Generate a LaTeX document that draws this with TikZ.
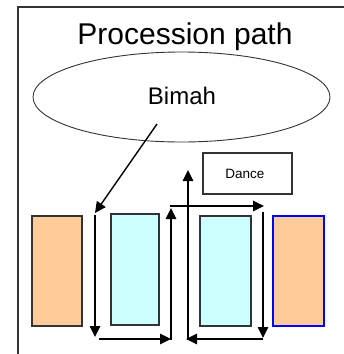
\documentclass[tikz,border=0pt]{standalone}
\usepackage{fontspec}
\setmainfont{Liberation Sans}
\usetikzlibrary{arrows.meta,shapes.geometric}
\definecolor{seat}{HTML}{FFCC99}
\definecolor{aisle}{HTML}{CCFFFF}
\definecolor{framegray}{HTML}{333333}
\begin{document}
\begin{tikzpicture}[x=1pt,y=-1pt,
  pew/.style={draw=framegray,line width=1.6pt,minimum width=50pt,minimum height=110pt,inner sep=0pt},
  walk/.style={draw=black,line width=1.4pt,-{Triangle[length=11pt,width=10.5pt]}},
  lbl/.style={inner sep=0pt}]
  \useasboundingbox (0,0) rectangle (344,354);
  % open frame: top and left edges only
  \draw[framegray,line width=2pt] (344,7) -- (18,7) -- (18,354);
  % title
  \node[lbl,font=\fontsize{30}{32}\selectfont] (title) at (185,37) {Procession path};
  % bimah
  \node[ellipse,draw=framegray,line width=0.9pt,minimum width=297pt,minimum height=90pt,inner sep=0pt] (bimah) at (181.5,97) {};
  \node[lbl,font=\fontsize{24}{26}\selectfont] (bimahtxt) at (182,96) {Bimah};
  % dance box
  \node[draw=framegray,line width=1.6pt,minimum width=89pt,minimum height=41pt,inner sep=0pt] (dance) at (247.5,173.5) {};
  \node[lbl,font=\fontsize{13.5}{15}\selectfont] (dancetxt) at (245,173.5) {Dance};
  % seating blocks
  \node[pew,fill=seat] (pewA) at (57,271) {};
  \node[pew,fill=aisle,minimum width=48pt,minimum height=111pt] (pewB) at (135,269.5) {};
  \node[pew,fill=aisle,minimum width=51pt] (pewC) at (225.5,271) {};
  \node[pew,fill=seat,draw=blue,minimum width=51pt] (pewD) at (298.5,271) {};
  % corners of the route
  \coordinate (start) at (157,124);
  \coordinate (p1) at (95,213);
  \coordinate (p1b) at (95,215);
  \coordinate (p2) at (95,337);
  \coordinate (p3a) at (99,339);
  \coordinate (p3) at (171,339);
  \coordinate (p4a) at (171,340);
  \coordinate (p4) at (171,208);
  \coordinate (p5a) at (170,206);
  \coordinate (p5) at (264,206);
  \coordinate (p6a) at (263,212);
  \coordinate (p6) at (263,338);
  \coordinate (p7a) at (263,339);
  \coordinate (p7) at (186,339);
  \coordinate (p8a) at (188,340);
  \coordinate (p8) at (188,170);
  % route
  \draw[walk] (start) -- (p1);
  \draw[walk] (p1b) -- (p2);
  \draw[walk] (p3a) -- (p3);
  \draw[walk] (p4a) -- (p4);
  \draw[walk] (p5a) -- (p5);
  \draw[walk] (p6a) -- (p6);
  \draw[walk] (p7a) -- (p7);
  \draw[walk] (p8a) -- (p8);
\end{tikzpicture}
\end{document}
